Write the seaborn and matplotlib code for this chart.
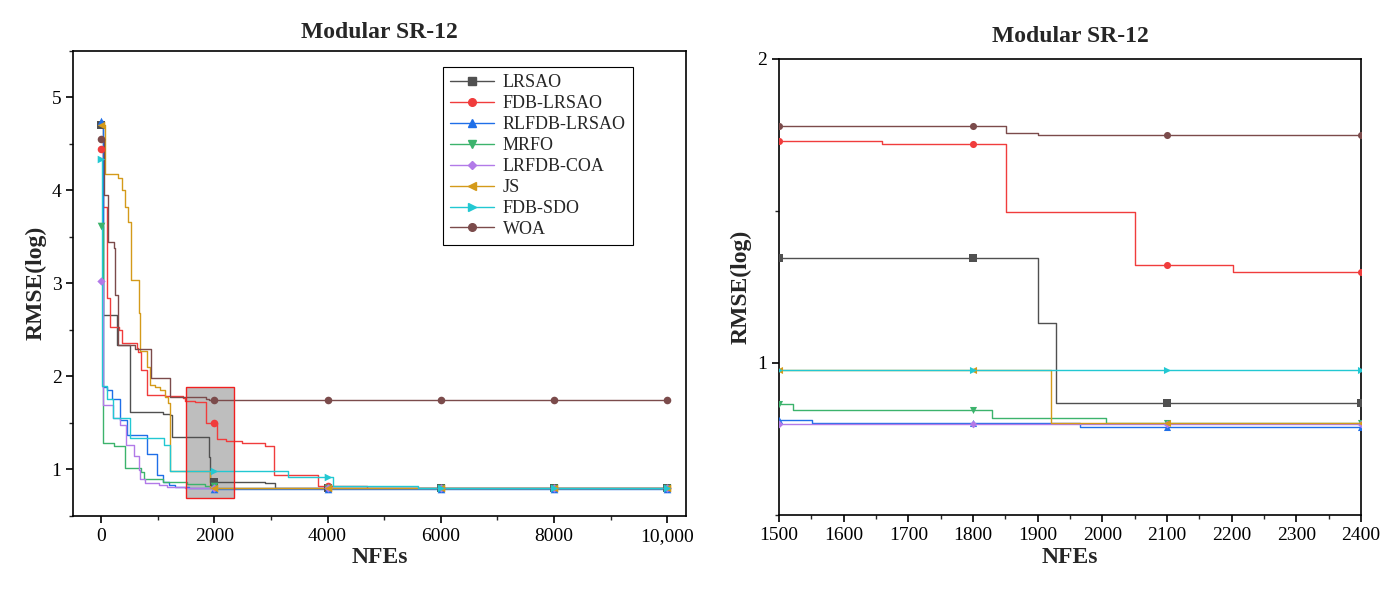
import numpy as np
import matplotlib
matplotlib.use('Agg')
import matplotlib.pyplot as plt
import seaborn as sns
from matplotlib.lines import Line2D
from matplotlib.patches import Rectangle
from matplotlib.ticker import MultipleLocator

# ---------------- data (convergence curves, step-wise) ----------------
names = ['LRSAO', 'FDB-LRSAO', 'RLFDB-LRSAO', 'MRFO', 'LRFDB-COA', 'JS', 'FDB-SDO', 'WOA']
colors = ['#505050', '#f03c3c', '#1f6fe8', '#3cb36c', '#b27ae8', '#d49a1a', '#22c8d2', '#7b4b4b']
markers = ['s', 'o', '^', 'v', 'D', '<', '>', 'o']

lrsao_x = [0, 35, 276, 512, 1100, 1218, 1247, 1900, 1928, 2600, 2900, 3080, 10000]
lrsao_y = [4.70, 2.66, 2.34, 1.62, 1.60, 1.585, 1.346, 1.132, 0.868, 0.860, 0.850, 0.798, 0.795]

fdb_lrsao_x = [0, 40, 100, 160, 310, 365, 630, 650, 700, 806, 1130, 1450, 1490, 1660, 1851, 2051, 2202, 2480,
               2900, 3060, 3830, 4700, 10000]
fdb_lrsao_y = [4.44, 3.82, 2.84, 2.53, 2.50, 2.355, 2.30, 2.265, 2.07, 1.80, 1.79, 1.763, 1.730, 1.721, 1.497,
               1.323, 1.300, 1.28, 1.25, 0.94, 0.82, 0.795, 0.795]

rlfdb_lrsao_x = [0, 30, 100, 190, 330, 450, 810, 980, 1100, 1195, 1300, 1551, 1966, 10000]
rlfdb_lrsao_y = [4.75, 1.88, 1.85, 1.76, 1.53, 1.37, 1.17, 0.94, 0.867, 0.83, 0.811, 0.803, 0.790, 0.790]

mrfo_x = [0, 40, 220, 420, 700, 755, 1100, 1522, 1829, 2005, 4000, 10000]
mrfo_y = [3.62, 1.28, 1.25, 1.01, 0.97, 0.90, 0.865, 0.846, 0.818, 0.804, 0.795, 0.795]

lrfdb_coa_x = [0, 40, 212, 341, 447, 577, 665, 694, 780, 1018, 1165, 1480, 3000, 10000]
lrfdb_coa_y = [3.02, 1.69, 1.55, 1.48, 1.26, 1.14, 0.99, 0.90, 0.85, 0.83, 0.815, 0.798, 0.795, 0.795]

js_x = [0, 70, 300, 365, 424, 482, 530, 670, 690, 806, 865, 953, 1040, 1130, 1190, 1218, 1920, 4000, 10000]
js_y = [4.70, 4.18, 4.13, 4.00, 3.82, 3.66, 3.04, 2.68, 2.27, 2.10, 1.91, 1.89, 1.85, 1.78, 1.71, 0.978, 0.803,
        0.795, 0.795]

fdb_sdo_x = [0, 20, 100, 212, 518, 1106, 1224, 3306, 4100, 5600, 10000]
fdb_sdo_y = [4.34, 1.90, 1.76, 1.55, 1.333, 1.262, 0.978, 0.914, 0.82, 0.795, 0.795]

woa_x = [0, 60, 120, 220, 240, 300, 600, 890, 1218, 1851, 1901, 10000]
woa_y = [4.55, 3.95, 3.44, 3.38, 2.875, 2.34, 2.29, 1.98, 1.78, 1.757, 1.750, 1.750]

series_x = [lrsao_x, fdb_lrsao_x, rlfdb_lrsao_x, mrfo_x, lrfdb_coa_x, js_x, fdb_sdo_x, woa_x]
series_y = [lrsao_y, fdb_lrsao_y, rlfdb_lrsao_y, mrfo_y, lrfdb_coa_y, js_y, fdb_sdo_y, woa_y]

left_marker_x = [0, 2000, 4000, 6000, 8000, 10000]
right_marker_x = [1500, 1800, 2100, 2400]
left_xtick_labels = ['0', '2000', '4000', '6000', '8000', '10,000']
left_xticks = [0, 2000, 4000, 6000, 8000, 10000]

title = 'Modular SR-12'
xlabel = 'NFEs'
ylabel = 'RMSE(log)'

# zoom window
zoom_x0, zoom_x1 = 1500, 2350
zoom_y0, zoom_y1 = 0.69, 1.88

# ---------------- style ----------------
sns.set_style('ticks')
plt.rcParams['font.family'] = ['Liberation Serif', 'DejaVu Serif']
plt.rcParams['axes.linewidth'] = 1.2
plt.rcParams['axes.edgecolor'] = 'black'

fig = plt.figure(figsize=(13.92, 5.91), dpi=100)
ax1 = fig.add_axes([0.0527, 0.1272, 0.4401, 0.7868])
ax2 = fig.add_axes([0.5596, 0.1286, 0.4181, 0.7716])


def step_at(xs, ys, q):
    idx = np.searchsorted(np.asarray(xs), np.asarray(q), side='right') - 1
    return np.asarray(ys)[idx]


for ax, mx, ms in [(ax1, left_marker_x, 30), (ax2, right_marker_x, 26)]:
    for xs, ys, c, m in zip(series_x, series_y, colors, markers):
        sns.lineplot(x=xs, y=ys, ax=ax, color=c, lw=1.0, drawstyle='steps-post',
                     legend=False, errorbar=None, sort=False, zorder=3)
        s = ms * 0.6 if m == 'D' else ms
        sns.scatterplot(x=mx, y=step_at(xs, ys, mx), ax=ax, marker=m, color=c, s=s,
                        linewidth=0, legend=False, zorder=4)

# gray zoom box on left
ax1.add_patch(Rectangle((zoom_x0, zoom_y0), zoom_x1 - zoom_x0, zoom_y1 - zoom_y0,
                        facecolor='#a8a8a8', alpha=0.75, edgecolor='none', zorder=2))
ax1.add_patch(Rectangle((zoom_x0, zoom_y0), zoom_x1 - zoom_x0, zoom_y1 - zoom_y0,
                        facecolor='none', edgecolor='#f02020', lw=1.0, zorder=5))

# left axes
ax1.set_xlim(-490, 10330)
ax1.set_ylim(0.5, 5.5)
ax1.set_xticks(left_xticks)
ax1.set_xticklabels(left_xtick_labels)
ax1.xaxis.set_minor_locator(MultipleLocator(1000))
ax1.set_yticks([1, 2, 3, 4, 5])
ax1.yaxis.set_minor_locator(MultipleLocator(0.5))

# right axes
ax2.set_xlim(1500, 2400)
ax2.set_ylim(0.5, 2.0)
ax2.set_xticks(list(range(1500, 2401, 100)))
ax2.xaxis.set_minor_locator(MultipleLocator(50))
ax2.set_yticks([1, 2])
ax2.yaxis.set_minor_locator(MultipleLocator(0.5))

for ax, pad in [(ax1, 9), (ax2, 12)]:
    for sp in ax.spines.values():
        sp.set_visible(True)
        sp.set_linewidth(1.2)
        sp.set_color('black')
    ax.tick_params(axis='both', which='major', direction='out', length=5, width=1.2,
                   labelsize=14, colors='black')
    ax.tick_params(axis='both', which='minor', direction='out', length=3, width=1.0)
    ax.set_title(title, fontsize=17, fontweight='bold', pad=pad)
    ax.set_xlabel(xlabel, fontsize=17, fontweight='bold', labelpad=2)
    ax.set_ylabel(ylabel, fontsize=17, fontweight='bold', labelpad=4)
    ax.grid(False)

handles = [Line2D([0], [0], color=c, marker=m, markersize=(4 if m == 'D' else 5.5), lw=1.0)
           for c, m in zip(colors, markers)]
leg = ax1.legend(handles, names, loc='upper right', bbox_to_anchor=(0.9135, 0.9657),
                 frameon=True, fancybox=False, edgecolor='black', framealpha=1,
                 fontsize=13, handlelength=2.4, borderaxespad=0, labelspacing=0.22,
                 handletextpad=0.5, borderpad=0.4)
leg.get_frame().set_linewidth(0.8)

fig.savefig('out.png', dpi=100)
